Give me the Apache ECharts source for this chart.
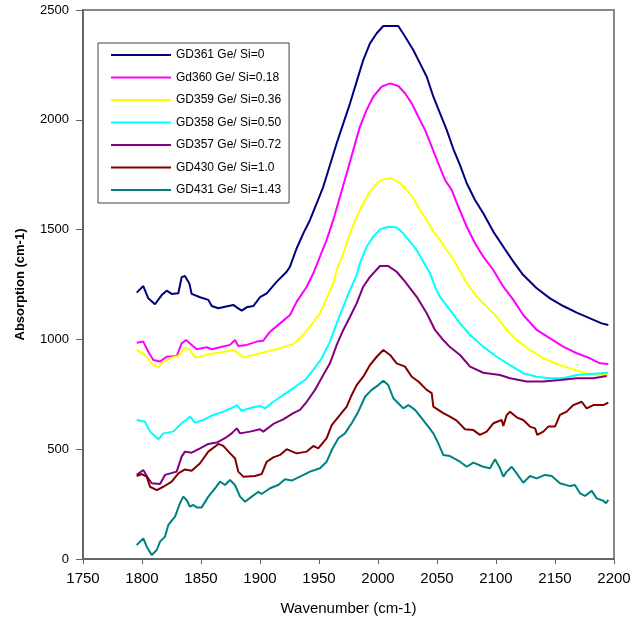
<!DOCTYPE html>
<html>
<head>
<meta charset="utf-8">
<script src="https://cdn.jsdelivr.net/npm/echarts@6/dist/echarts.min.js"></script>
<style>
html,body{margin:0;padding:0;background:#fff;}
#chart{width:639px;height:625px;}
</style>
</head>
<body>
<div id="chart"></div>
<script>
var seriesNames = ["GD361 Ge/ Si=0","Gd360 Ge/ Si=0.18","GD359 Ge/ Si=0.36","GD358 Ge/ Si=0.50","GD357 Ge/ Si=0.72","GD430 Ge/ Si=1.0","GD431 Ge/ Si=1.43"];
var seriesColors = ["#000080","#FF00FF","#FFFF00","#00FFFF","#800080","#800000","#008080"];
var xTicks = [1750,1800,1850,1900,1950,2000,2050,2100,2150,2200];
var yTicks = [0,500,1000,1500,2000,2500];

var gd361 = [[1795.5,1213],[1801.1,1243],[1805.3,1187],[1811,1160],[1816.7,1202],[1820.9,1222],[1825.2,1207],[1830.8,1210],[1833.6,1283],[1836.4,1289],[1840.1,1255],[1842.1,1207],[1849.2,1192],[1856.2,1180],[1859.1,1152],[1864.7,1142],[1870.3,1149],[1877.4,1157],[1880.3,1146],[1884.5,1131],[1888.7,1146],[1894.3,1152],[1900,1192],[1905.7,1210],[1914.2,1263],[1922.6,1308],[1925.4,1331],[1931.1,1415],[1936.7,1483],[1942.4,1544],[1948.1,1620],[1953.6,1695],[1959.3,1794],[1965,1893],[1970.6,1984],[1976.3,2075],[1981.9,2174],[1987.5,2272],[1993.2,2348],[1998.9,2394],[2004.5,2427],[2017.2,2427],[2022.9,2379],[2029.9,2318],[2035.6,2257],[2041.3,2196],[2046.9,2105],[2052.5,2030],[2058.2,1954],[2063.8,1868],[2069.5,1794],[2075.2,1711],[2082.2,1635],[2089.2,1574],[2097.7,1491],[2106.2,1422],[2114.7,1354],[2123.1,1293],[2134.5,1233],[2145.8,1187],[2157,1152],[2168.4,1122],[2179.7,1096],[2189.6,1073],[2195.2,1066]];

var gd360 = [[1795.5,985],[1801.1,990],[1805.3,944],[1809.6,906],[1815.3,899],[1820.9,921],[1829.4,924],[1833.6,982],[1837.3,997],[1842.1,975],[1846.4,955],[1854.8,964],[1859.1,955],[1866.1,964],[1874.6,975],[1878.8,997],[1881.6,970],[1888.7,975],[1897.2,990],[1902.8,994],[1908.5,1035],[1917,1073],[1925.4,1111],[1931.1,1172],[1939.6,1240],[1945.2,1301],[1950.8,1377],[1956.5,1453],[1962.1,1544],[1967.8,1650],[1973.5,1757],[1979.1,1863],[1984.7,1969],[1990.4,2045],[1996,2105],[2003.1,2151],[2010.2,2166],[2017.2,2154],[2022.9,2121],[2028.6,2075],[2034.2,2014],[2039.8,1954],[2045.5,1878],[2051.1,1802],[2056.8,1726],[2062.5,1680],[2068.1,1604],[2075.2,1513],[2082.2,1438],[2089.2,1377],[2097.7,1316],[2106.2,1240],[2114.7,1180],[2123.1,1111],[2134.5,1043],[2145.8,1005],[2157,967],[2168.4,937],[2179.7,914],[2188.1,891],[2195.2,888]];

var gd359 = [[1795.5,952],[1799.7,940],[1804,921],[1808.2,888],[1813.8,873],[1818.1,899],[1823.7,914],[1830.8,924],[1836.4,964],[1840.7,952],[1844.9,918],[1849.2,921],[1857.6,934],[1866.1,940],[1877.4,952],[1881.6,937],[1885.8,918],[1894.3,929],[1902.8,940],[1911.3,952],[1919.7,964],[1928.2,979],[1933.9,1005],[1942.4,1058],[1950.8,1119],[1956.5,1187],[1962.1,1256],[1965,1316],[1970.6,1392],[1976.3,1483],[1981.9,1559],[1987.5,1620],[1993.2,1673],[1998.9,1711],[2004.5,1729],[2011.6,1734],[2018.6,1711],[2024.3,1680],[2029.9,1643],[2035.6,1589],[2041.3,1544],[2046.9,1491],[2052.5,1453],[2058.2,1407],[2063.8,1365],[2069.5,1312],[2075.2,1256],[2083.7,1194],[2092.1,1149],[2100.6,1103],[2109.1,1043],[2117.5,997],[2128.8,952],[2140.1,914],[2151.4,888],[2162.7,868],[2174,848],[2185.3,838],[2195.2,838]];

var gd358 = [[1795.5,633],[1802.5,625],[1806.8,580],[1813.8,545],[1818.1,572],[1826.5,580],[1833.6,618],[1840.7,648],[1844.9,621],[1851.9,633],[1860.4,656],[1868.9,671],[1877.4,691],[1880.3,701],[1884.5,675],[1894.3,691],[1900,697],[1904.2,686],[1911.3,716],[1919.7,747],[1928.2,777],[1933.9,800],[1938.1,815],[1945.2,861],[1952.3,914],[1959.3,990],[1965,1073],[1970.6,1149],[1976.3,1225],[1981.9,1293],[1984.7,1347],[1990.4,1422],[1996,1468],[2001.7,1501],[2008.7,1513],[2015.8,1510],[2021.4,1483],[2027.1,1445],[2032.8,1407],[2038.4,1354],[2044.1,1301],[2048.3,1240],[2052.5,1194],[2061,1134],[2069.5,1073],[2078,1020],[2089.2,967],[2100.6,921],[2111.9,883],[2123.1,846],[2134.5,830],[2145.8,823],[2157,823],[2168.4,838],[2180,843],[2195.2,848]];

var gd357 = [[1795.5,383],[1801.1,405],[1805.3,367],[1808.2,345],[1815.3,342],[1819.5,383],[1829.4,398],[1833.6,466],[1836.4,489],[1842.1,484],[1849.2,504],[1856.2,524],[1863.3,530],[1870.3,550],[1876,572],[1880.3,595],[1883.1,572],[1891.5,580],[1900,591],[1902.8,580],[1911.3,615],[1919.7,636],[1928.2,664],[1933.9,679],[1939.6,716],[1946.6,770],[1953.6,838],[1959.3,891],[1965,975],[1970.6,1043],[1976.3,1103],[1981.9,1164],[1987.5,1240],[1993.2,1285],[2001.7,1334],[2008.7,1334],[2015.8,1308],[2022.9,1263],[2032.8,1194],[2041.3,1119],[2048.3,1043],[2055.3,997],[2061,965],[2069.5,929],[2078,876],[2089.2,848],[2103.4,838],[2111.9,823],[2126,808],[2140.1,808],[2154.2,815],[2168.4,823],[2182.5,823],[2193.8,833]];

var gd430 = [[1795.5,378],[1799.7,387],[1804,375],[1806.8,329],[1812.5,314],[1818.1,329],[1825.2,352],[1830.8,390],[1836.4,408],[1842.1,402],[1849.2,436],[1856.2,489],[1864.7,524],[1868.9,515],[1874.6,481],[1878.8,459],[1881.6,398],[1885.8,375],[1895.8,378],[1901.4,387],[1905.7,443],[1911.3,463],[1917,474],[1922.6,500],[1926.9,490],[1931.1,481],[1939.6,489],[1945.2,515],[1949.4,504],[1956.5,550],[1960.8,610],[1967.8,656],[1973.5,694],[1977.7,747],[1981.9,792],[1987.5,830],[1993.2,883],[1998.9,921],[2004.5,952],[2010.2,929],[2015.8,891],[2022.9,876],[2028.6,830],[2034.2,808],[2041.3,770],[2045.5,755],[2046.9,694],[2055.3,664],[2061,648],[2066.7,630],[2073.7,591],[2080.8,587],[2086.4,565],[2092.1,580],[2097.7,618],[2104.8,633],[2106.2,606],[2109.1,656],[2111.9,671],[2117.5,645],[2123.1,633],[2128.8,603],[2133.1,595],[2135,565],[2140.1,580],[2144.3,603],[2150,603],[2154.2,656],[2159.9,671],[2165.5,701],[2172.6,716],[2176.8,686],[2182.5,701],[2190.9,701],[2195.2,712]];

var gd431 = [[1795.5,64],[1801.1,94],[1804,56],[1808.2,18],[1812.5,41],[1815.3,79],[1819.5,102],[1822.3,155],[1828,193],[1832.2,254],[1835,284],[1837.8,269],[1840.7,238],[1843.5,246],[1846.4,235],[1850.6,235],[1856.2,284],[1861.9,322],[1866.1,352],[1870.3,337],[1874.6,360],[1878.8,337],[1883.1,284],[1887.3,261],[1893,284],[1898.6,306],[1901.4,296],[1908.5,322],[1915.5,337],[1921.2,363],[1926.9,357],[1933.9,375],[1942.4,398],[1950.8,413],[1956.5,443],[1960.8,496],[1966.4,550],[1972,572],[1977.7,618],[1983.3,671],[1989,739],[1994.6,770],[2000.3,792],[2004.5,812],[2008.7,792],[2013,732],[2017.2,709],[2021.4,686],[2025.7,701],[2031.4,679],[2037,641],[2042.6,603],[2046.9,572],[2051.1,527],[2055.3,474],[2061,469],[2069.5,443],[2075.2,420],[2080.8,439],[2089.2,420],[2094.9,413],[2099.2,454],[2103.4,413],[2106.2,375],[2109.1,398],[2113.3,420],[2117.5,390],[2123.1,347],[2128.8,378],[2134.5,367],[2141.5,383],[2147.2,378],[2154.2,345],[2162.7,332],[2166.9,337],[2171.2,299],[2175.4,287],[2181.1,310],[2185.3,276],[2190.9,265],[2193.2,254],[2195.2,269]];

var allData = [gd361, gd360, gd359, gd358, gd357, gd430, gd431];

var chart = echarts.init(document.getElementById('chart'), null, {renderer: 'canvas'});
var font = 'Liberation Sans, Arial, sans-serif';

var series = allData.map(function (d, i) {
  return {
    name: seriesNames[i],
    type: 'line',
    data: d,
    showSymbol: false,
    symbol: 'none',
    lineStyle: {color: seriesColors[i], width: 2},
    itemStyle: {color: seriesColors[i]},
    animation: false
  };
});

function plain(v) { return String(v); }

chart.setOption({
  animation: false,
  backgroundColor: '#fff',
  grid: {left: 83, right: 25, top: 10, bottom: 66, show: true, borderColor: '#888', borderWidth: 2, backgroundColor: 'transparent'},
  legend: {
    orient: 'vertical',
    left: 98, top: 43,
    data: seriesNames.map(function (n) { return {name: n, icon: 'rect'}; }),
    itemWidth: 60, itemHeight: 2,
    itemGap: 8.5,
    padding: [5, 8, 6, 13],
    borderColor: '#444', borderWidth: 1,
    backgroundColor: '#fff',
    textStyle: {fontFamily: font, fontSize: 12, color: '#000', lineHeight: 14},
    selectedMode: false
  },
  xAxis: {
    type: 'value', min: xTicks[0], max: xTicks[xTicks.length - 1], interval: 50,
    name: 'Wavenumber (cm-1)', nameLocation: 'middle', nameGap: 42,
    nameTextStyle: {fontFamily: font, fontSize: 15, color: '#000'},
    axisLine: {show: true, lineStyle: {color: '#666', width: 2}},
    axisTick: {show: true, length: 5, lineStyle: {color: '#666', width: 1}},
    axisLabel: {fontFamily: font, fontSize: 15, color: '#000', margin: 12, formatter: plain},
    splitLine: {show: false}
  },
  yAxis: {
    type: 'value', min: yTicks[0], max: yTicks[yTicks.length - 1], interval: 500,
    name: 'Absorption (cm-1)', nameLocation: 'middle', nameGap: 56,
    nameTextStyle: {fontFamily: font, fontSize: 13, fontWeight: 'bold', color: '#000'},
    axisLine: {show: true, lineStyle: {color: '#666', width: 2}},
    axisTick: {show: true, length: 7, lineStyle: {color: '#666', width: 1}},
    axisLabel: {fontFamily: font, fontSize: 13, color: '#000', margin: 14, formatter: plain},
    splitLine: {show: false}
  },
  series: series
});
</script>
</body>
</html>
